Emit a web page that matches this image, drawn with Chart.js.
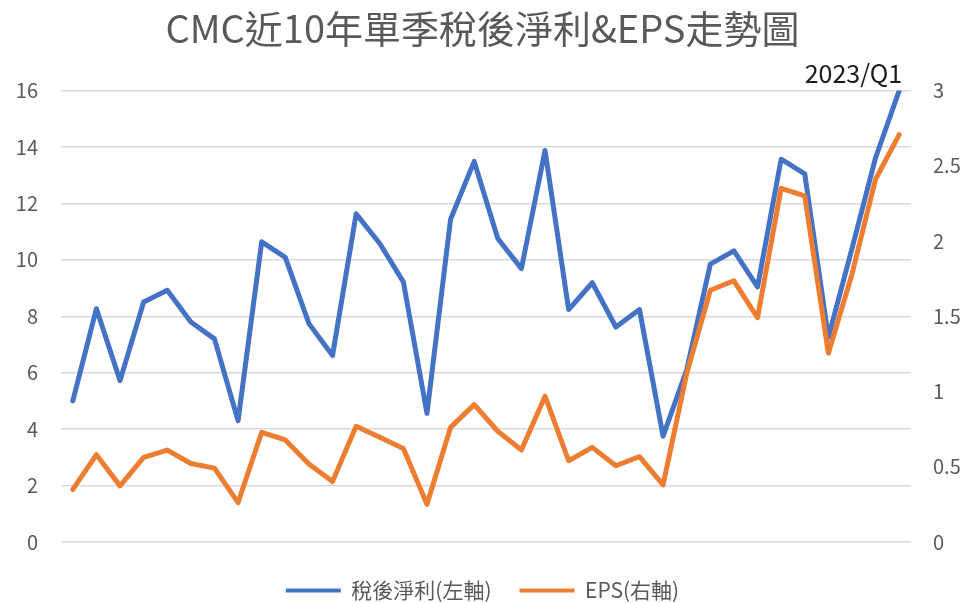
<!DOCTYPE html>
<html>
<head>
<meta charset="utf-8">
<title>CMC近10年單季稅後淨利&EPS走勢圖</title>
<script src="https://cdn.jsdelivr.net/npm/chart.js@4.4.1/dist/chart.umd.min.js"></script>
<style>
  html, body { margin: 0; padding: 0; background: #ffffff; }
  #wrap { width: 965px; height: 603px; position: relative; }
</style>
</head>
<body>
<div id="wrap"><canvas id="chartCMC"></canvas></div>
<script>
'use strict';

// quarters, 2014/Q2 .. 2023/Q1
const quarters = [
  '2014/Q2', '2014/Q3', '2014/Q4',
  '2015/Q1', '2015/Q2', '2015/Q3', '2015/Q4',
  '2016/Q1', '2016/Q2', '2016/Q3', '2016/Q4',
  '2017/Q1', '2017/Q2', '2017/Q3', '2017/Q4',
  '2018/Q1', '2018/Q2', '2018/Q3', '2018/Q4',
  '2019/Q1', '2019/Q2', '2019/Q3', '2019/Q4',
  '2020/Q1', '2020/Q2', '2020/Q3', '2020/Q4',
  '2021/Q1', '2021/Q2', '2021/Q3', '2021/Q4',
  '2022/Q1', '2022/Q2', '2022/Q3', '2022/Q4',
  '2023/Q1'
];

// 稅後淨利 (left axis)
const netIncome = [
  5.0, 8.27, 5.72, 8.51, 8.92, 7.8, 7.2, 4.3, 10.64, 10.09, 7.74, 6.61,
  11.63, 10.58, 9.22, 4.56, 11.44, 13.49, 10.76, 9.69, 13.88, 8.24, 9.19, 7.62,
  8.24, 3.75, 6.1, 9.85, 10.32, 9.04, 13.57, 13.05, 7.25, 10.4, 13.62, 16.0
];

// EPS (right axis)
const eps = [
  0.35, 0.58, 0.373, 0.562, 0.611, 0.522, 0.491, 0.262, 0.729, 0.678, 0.518, 0.402,
  0.769, 0.696, 0.622, 0.251, 0.762, 0.913, 0.736, 0.611, 0.969, 0.54, 0.629, 0.507,
  0.567, 0.38, 1.12, 1.673, 1.736, 1.491, 2.351, 2.3, 1.255, 1.78, 2.411, 2.707
];

const leftTicks = [0, 2, 4, 6, 8, 10, 12, 14, 16];
const rightTicks = [0, 0.5, 1, 1.5, 2, 2.5, 3];
const lastLabel = '2023/Q1';

const colors = {
  blue: '#4472C4',
  orange: '#ED7D31',
  grid: '#d9d9d9',
  text: '#595959'
};
const fontFamily = "'Noto Sans CJK TC', 'Noto Sans', sans-serif";

// label over the last quarter
const lastPointLabel = {
  id: 'lastPointLabel',
  afterDatasetsDraw(chart) {
    const x = chart.scales.x.getPixelForValue(quarters.length - 1);
    const y = chart.scales.y.getPixelForValue(leftTicks[leftTicks.length - 1]);
    const ctx = chart.ctx;
    ctx.save();
    ctx.font = '25px ' + fontFamily;
    ctx.fillStyle = '#1a1a1a';
    ctx.textAlign = 'right';
    ctx.textBaseline = 'alphabetic';
    ctx.fillText(lastLabel, x + 3, y - 8);
    ctx.restore();
  }
};

new Chart(document.getElementById('chartCMC'), {
  type: 'line',
  data: {
    labels: quarters,
    datasets: [{
      label: '稅後淨利(左軸)',
      data: netIncome,
      yAxisID: 'y',
      borderColor: colors.blue,
      backgroundColor: colors.blue,
      borderWidth: 5,
      borderJoinStyle: 'round',
      borderCapStyle: 'round',
      pointRadius: 0,
      tension: 0,
      order: 1
    }, {
      label: 'EPS(右軸)',
      data: eps,
      yAxisID: 'y1',
      borderColor: colors.orange,
      backgroundColor: colors.orange,
      borderWidth: 5,
      borderJoinStyle: 'round',
      borderCapStyle: 'round',
      pointRadius: 0,
      tension: 0,
      order: 0
    }]
  },
  options: {
    responsive: true,
    maintainAspectRatio: false,
    animation: false,
    layout: { padding: { left: 0, right: 0, top: 0, bottom: -8 } },
    scales: {
      x: {
        offset: true,
        ticks: { display: false },
        grid: { display: false },
        border: { display: false },
        afterFit(scale) { scale.height = 10; }
      },
      y: {
        position: 'left',
        min: 0,
        max: 16,
        afterBuildTicks(scale) { scale.ticks = leftTicks.map(v => ({ value: v })); },
        afterFit(scale) { scale.width = 61; },
        ticks: { color: colors.text, padding: 23, font: { family: fontFamily, size: 20 } },
        grid: { color: colors.grid, lineWidth: 1.5, drawTicks: false },
        border: { display: false }
      },
      y1: {
        position: 'right',
        min: 0,
        max: 3,
        afterBuildTicks(scale) { scale.ticks = rightTicks.map(v => ({ value: v })); },
        afterFit(scale) { scale.width = 54; },
        ticks: {
          color: colors.text,
          padding: 22,
          font: { family: fontFamily, size: 20 },
          callback: (v) => String(v)
        },
        grid: { drawOnChartArea: false, drawTicks: false },
        border: { display: false }
      }
    },
    plugins: {
      title: {
        display: true,
        text: 'CMC近10年單季稅後淨利&EPS走勢圖',
        color: colors.text,
        font: { family: fontFamily, size: 38, weight: 'normal' },
        padding: { top: 6, bottom: 39 }
      },
      legend: {
        position: 'bottom',
        labels: {
          color: colors.text,
          font: { family: fontFamily, size: 21 },
          boxWidth: 55,
          boxHeight: 4,
          padding: 28,
          generateLabels(chart) {
            return chart.data.datasets.map((ds, i) => ({
              text: ds.label,
              fillStyle: ds.borderColor,
              strokeStyle: ds.borderColor,
              lineWidth: 0,
              hidden: !chart.isDatasetVisible(i),
              datasetIndex: i,
              fontColor: colors.text
            }));
          }
        }
      },
      tooltip: { enabled: false }
    }
  },
  plugins: [lastPointLabel]
});
</script>
</body>
</html>
